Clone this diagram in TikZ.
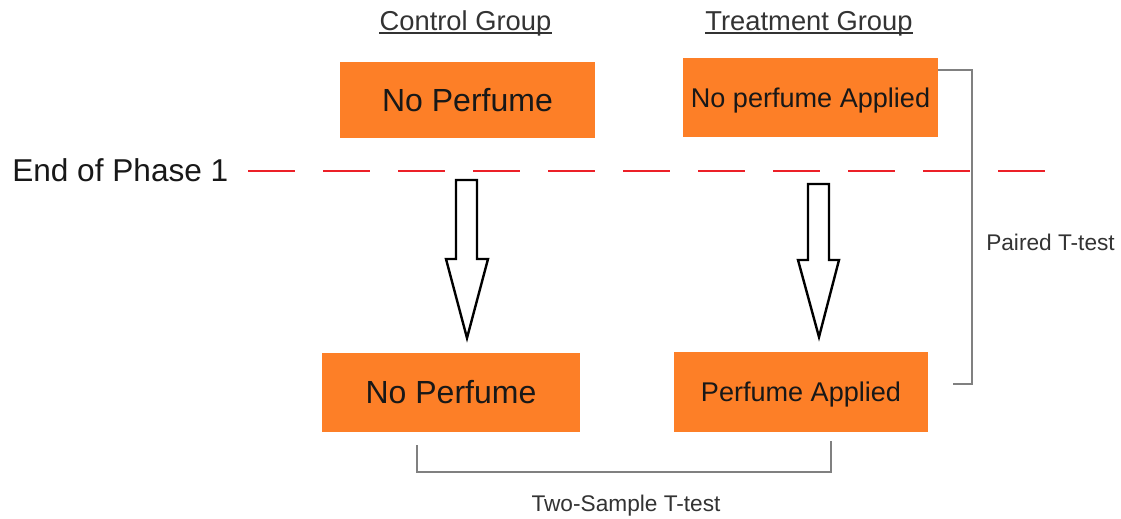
\documentclass[tikz,border=0pt]{standalone}
\usepackage{fontspec}
\setmainfont{Liberation Sans}
\usetikzlibrary{calc}
\definecolor{boxorange}{RGB}{253,127,39}
\definecolor{txt}{RGB}{24,24,24}
\definecolor{hdr}{RGB}{51,51,51}
\definecolor{brk}{RGB}{128,128,128}
\definecolor{dashred}{RGB}{236,32,40}
\begin{document}
\begin{tikzpicture}[x=0.75pt,y=-0.75pt,
  box/.style={fill=boxorange, draw=none, inner sep=0pt, text=txt, text depth=0pt},
  bigtxt/.style={font=\fontsize{24}{28}\selectfont, text height=17.2pt},
  midtxt/.style={font=\fontsize{20.3}{24}\selectfont, text height=14.5pt},
  header/.style={inner sep=0pt, anchor=base, text=hdr, font=\fontsize{20.5}{24}\selectfont},
  uline/.style={draw=hdr, line width=1.1pt},
  smalltxt/.style={inner sep=0pt, anchor=base, text=hdr, font=\fontsize{17}{20}\selectfont},
  bracket/.style={draw=brk, line width=1.5pt},
  dashline/.style={draw=dashred, line width=1.5pt, dash pattern=on 35pt off 21.25pt},
  blockarr/.style={draw=black, fill=white, line width=1.8pt, line join=miter}]
\useasboundingbox[fill=white] (0,0) rectangle (1121,518);

% headers
\node[header] (cg) at (465.5,30) {Control Group};
\node[header] (tg) at (809,30) {Treatment Group};
\draw[uline] ([yshift=-2.2pt]cg.base west) -- ([yshift=-2.2pt]cg.base east);
\draw[uline] ([yshift=-2.2pt]tg.base west) -- ([yshift=-2.2pt]tg.base east);

% boxes
\node[box, bigtxt, minimum width={255*0.75pt}, minimum height={76*0.75pt}] (b1) at (467.5,100) {No Perfume};
\node[box, midtxt, minimum width={255*0.75pt}, minimum height={79*0.75pt}] (b2) at (810.5,97.5) {No perfume Applied};
\node[box, bigtxt, minimum width={258*0.75pt}, minimum height={79*0.75pt}] (b3) at (451,392.5) {No Perfume};
\node[box, midtxt, minimum width={254*0.75pt}, minimum height={80*0.75pt}] (b4) at (801,392) {Perfume Applied};

% phase line
\node[inner sep=0pt, anchor=base west, text=txt, font=\fontsize{23.7}{28}\selectfont] (ph) at (12,181) {End of Phase 1};
\coordinate (dl) at (248,171);
\coordinate (dr) at (1051,171);
\draw[dashline] (dl) -- (dr);

% block arrows
\draw[blockarr] (456,180) -- (477,180) -- (477,259) -- (488,259) -- (467,338) -- (446,259) -- (456,259) -- cycle;
\draw[blockarr] (808,184) -- (829,184) -- (829,260) -- (839,260) -- (819,337) -- (798,260) -- (808,260) -- cycle;

% brackets
\draw[bracket] ($(b3.south)+(-34,13)$) |- ($(b4.south)+(30,40)$) -- ($(b4.south)+(30,9)$);
\draw[bracket] ($(b2.north east)+(0,12)$) -| ($(b4.east)+(44,-8)$) -- ($(b4.east)+(25,-8)$);

% test labels
\node[smalltxt] (pt) at (1050.5,250) {Paired T-test};
\node[smalltxt] (ts) at (626,511) {Two-Sample T-test};
\end{tikzpicture}
\end{document}
